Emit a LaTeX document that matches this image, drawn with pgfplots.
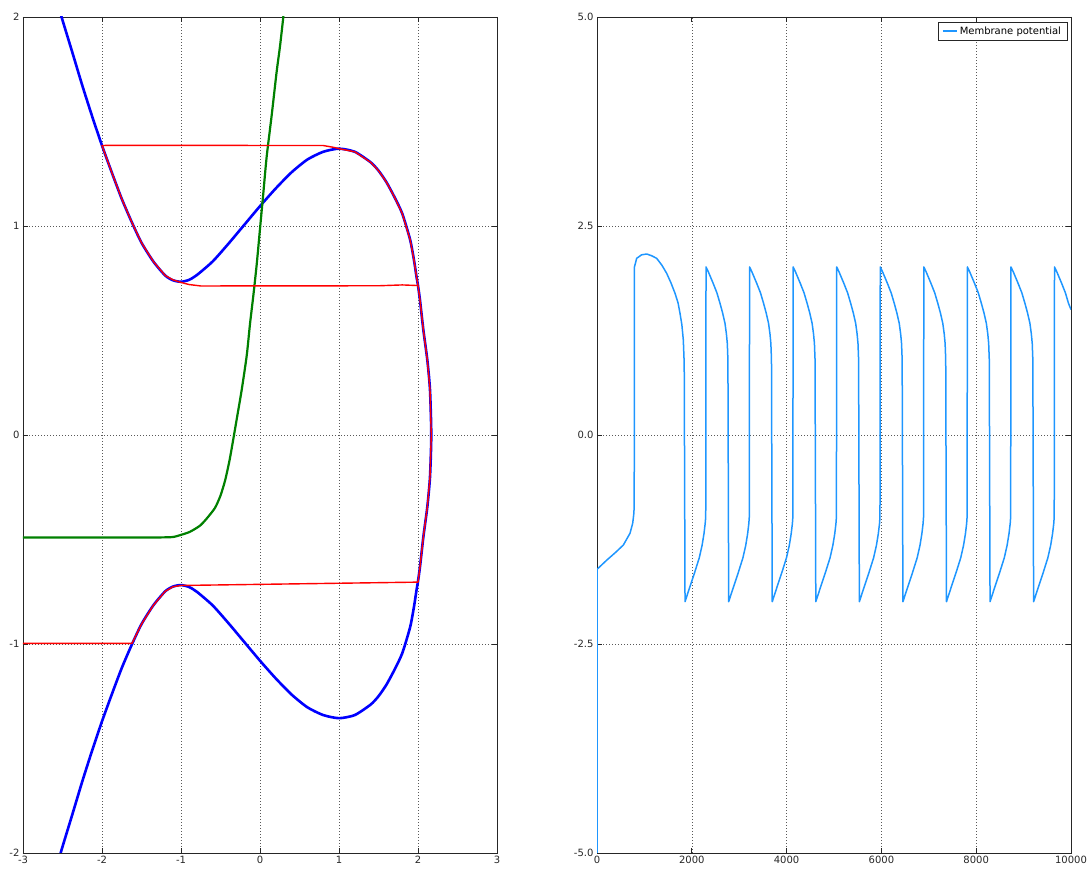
\documentclass[border=0pt]{standalone}
\usepackage{fontspec}
\setmainfont{DejaVu Sans}
\usepackage{pgfplots}
\pgfplotsset{compat=1.18}

\definecolor{nullv}{RGB}{0,0,255}
\definecolor{nullw}{RGB}{0,128,0}
\definecolor{orbit}{RGB}{255,0,0}
\definecolor{trace}{RGB}{30,150,255}

\pgfplotsset{
  panel/.style={
    scale only axis, width=474pt, height=836pt,
    axis line style={black!85, line width=0.9pt},
    grid=major,
    major grid style={black!65, line width=0.6pt, dash pattern=on 1pt off 2pt},
    tick style={black!85, line width=0.7pt},
    major tick length=5pt,
    tick align=inside,
    tick label style={font=\fontsize{10}{12}\selectfont, text=black!85},
    /pgf/number format/assume math mode=true,
  }
}

\begin{document}
\begin{tikzpicture}
\path[use as bounding box] (0pt,0pt) rectangle (1090pt,872pt);

% ---- phase plane ----
\begin{axis}[panel, at={(23pt,19pt)}, anchor=south west,
  xmin=-3, xmax=3, ymin=-2, ymax=2,
  xtick={-3,-2,-1,0,1,2,3}, ytick={-2,-1,0,1,2}]

% closed nullcline (upper branch, then lower branch back)
\addplot[nullv, line width=2.6pt, line join=round, smooth, tension=0.4] coordinates {
(-2.55,2.05) (-2.5,1.985) (-2.375,1.83) (-2.25,1.673) (-2.125,1.525)
(-2.0,1.385) (-1.875,1.255) (-1.75,1.13) (-1.625,1.02) (-1.5,0.92)
(-1.35,0.83) (-1.2,0.763) (-1.1,0.74) (-1.0,0.733) (-0.9,0.742)
(-0.8,0.765) (-0.6,0.83) (-0.4,0.915) (-0.2,1.005) (0.0,1.095)
(0.2,1.18) (0.4,1.257) (0.6,1.318) (0.8,1.355) (1.0,1.37)
(1.2,1.355) (1.4,1.305) (1.5,1.265) (1.6,1.21) (1.7,1.14)
(1.8,1.06) (1.9,0.935) (1.95,0.835) (1.98,0.76) (2.0,0.715)
(2.025,0.646) (2.068,0.502) (2.118,0.359) (2.152,0.215) (2.168,0.0)
(2.152,-0.200) (2.118,-0.344) (2.068,-0.487) (2.025,-0.631) (2.0,-0.700)
(1.98,-0.745) (1.95,-0.820) (1.9,-0.920) (1.8,-1.045) (1.7,-1.125)
(1.6,-1.195) (1.5,-1.250) (1.4,-1.290) (1.2,-1.340) (1.0,-1.355)
(0.8,-1.340) (0.6,-1.303) (0.4,-1.242) (0.2,-1.165) (0.0,-1.080)
(-0.2,-0.990) (-0.4,-0.900) (-0.6,-0.815) (-0.8,-0.750) (-0.9,-0.727)
(-1.0,-0.718) (-1.1,-0.725) (-1.2,-0.748) (-1.35,-0.815) (-1.5,-0.905)
(-1.625,-1.005) (-1.75,-1.115) (-1.875,-1.240) (-2.0,-1.370) (-2.125,-1.510)
(-2.25,-1.658) (-2.375,-1.815) (-2.5,-1.970) (-2.55,-2.035)
};

% recovery nullcline
\addplot[nullw, line width=2.2pt, line join=round, smooth, tension=0.4] coordinates {
(-3.0,-0.49) (-2.5,-0.49) (-2.0,-0.49) (-1.5,-0.49) (-1.25,-0.49) (-1.1,-0.488)
(-0.992,-0.477) (-0.886,-0.463) (-0.760,-0.434)
(-0.675,-0.400) (-0.570,-0.349) (-0.500,-0.290) (-0.440,-0.215) (-0.385,-0.120)
(-0.338,-0.020) (-0.295,0.075) (-0.232,0.215) (-0.168,0.380) (-0.127,0.530)
(-0.085,0.665) (-0.042,0.815) (0.0,0.986) (0.042,1.157) (0.084,1.330)
(0.148,1.530) (0.211,1.739) (0.253,1.859) (0.295,2.0) (0.31,2.06)
};

% trajectory
\addplot[orbit, line width=1.4pt, line join=round] coordinates {
(-3.0,-0.997) (-1.62,-0.997) (-1.5,-0.905) (-1.35,-0.815) (-1.2,-0.748)
(-1.1,-0.726) (-1.0,-0.720) (2.0,-0.704) (2.025,-0.631) (2.068,-0.487)
(2.118,-0.344) (2.152,-0.200) (2.168,0.0) (2.152,0.215) (2.118,0.359)
(2.068,0.502) (2.025,0.646) (2.0,0.715) (1.8,0.718) (1.5,0.714) (-0.75,0.713)
(-0.9,0.720) (-1.0,0.730) (-1.1,0.742) (-1.2,0.763) (-1.35,0.83)
(-1.5,0.92) (-1.625,1.02) (-1.75,1.13) (-1.875,1.255) (-2.0,1.385)
(-1.9,1.386) (0.8,1.385) (0.95,1.375) (1.0,1.37) (1.2,1.355)
(1.4,1.305) (1.5,1.265) (1.6,1.21) (1.7,1.14) (1.8,1.06)
(1.9,0.935) (1.95,0.835) (1.98,0.76) (2.0,0.715)
};
\end{axis}

% ---- time course ----
\begin{axis}[panel, at={(597pt,19pt)}, anchor=south west,
  xmin=0, xmax=10000, ymin=-5, ymax=5,
  xtick={0,2000,4000,6000,8000,10000},
  ytick={-5,-2.5,0,2.5,5},
  scaled x ticks=false,
  x tick label style={/pgf/number format/1000 sep={}},
  y tick label style={/pgf/number format/.cd, fixed, fixed zerofill, precision=1},
  legend style={at={(0.992,0.994)}, anchor=north east, draw=black!85,
    font=\fontsize{10}{12}\selectfont,
    inner xsep=4pt, inner ysep=2.5pt, cells={anchor=west}},
  legend image code/.code={\draw[trace, line width=2pt] (0pt,0pt) -- (14pt,0pt);}]
\addplot[trace, line width=1.5pt, line join=round] coordinates {
(0,-5.0) (0,-1.607) (200,-1.50) (400,-1.40) (556,-1.316) (696,-1.176)
(753,-1.056) (775,-0.95) (785,-0.86) (790,2.01) (837,2.113) (940,2.155)
(1048,2.165) (1150,2.145) (1259,2.113) (1370,2.03) (1470,1.934) (1560,1.82)
(1646,1.695) (1710,1.58) (1751,1.456) (1790,1.32) (1821,1.136) (1840,0.85)
(1857,-1.994) (1957,-1.82) (2057,-1.65) (2157,-1.47) (2217,-1.32)
(2257,-1.18) (2282,-1.06) (2294,-0.98)
(2300,2.01) (2350,1.95) (2450,1.815) (2530,1.70) (2595,1.575) (2650,1.46) (2700,1.336) (2730,1.21) (2749,1.096) (2762,0.90)
(2778,-1.994) (2878,-1.82) (2978,-1.65) (3078,-1.47) (3138,-1.32) (3178,-1.18) (3203,-1.06) (3213,-0.98)
(3219,2.01) (3269,1.95) (3369,1.815) (3449,1.70) (3514,1.575) (3569,1.46) (3619,1.336) (3649,1.21) (3668,1.096) (3681,0.90)
(3697,-1.994) (3797,-1.82) (3897,-1.65) (3997,-1.47) (4057,-1.32) (4097,-1.18) (4122,-1.06) (4132,-0.98)
(4138,2.01) (4188,1.95) (4288,1.815) (4368,1.70) (4433,1.575) (4488,1.46) (4538,1.336) (4568,1.21) (4587,1.096) (4600,0.90)
(4616,-1.994) (4716,-1.82) (4816,-1.65) (4916,-1.47) (4976,-1.32) (5016,-1.18) (5041,-1.06) (5051,-0.98)
(5057,2.01) (5107,1.95) (5207,1.815) (5287,1.70) (5352,1.575) (5407,1.46) (5457,1.336) (5487,1.21) (5506,1.096) (5519,0.90)
(5535,-1.994) (5635,-1.82) (5735,-1.65) (5835,-1.47) (5895,-1.32) (5935,-1.18) (5960,-1.06) (5970,-0.98)
(5976,2.01) (6026,1.95) (6126,1.815) (6206,1.70) (6271,1.575) (6326,1.46) (6376,1.336) (6406,1.21) (6425,1.096) (6438,0.90)
(6454,-1.994) (6554,-1.82) (6654,-1.65) (6754,-1.47) (6814,-1.32) (6854,-1.18) (6879,-1.06) (6889,-0.98)
(6895,2.01) (6945,1.95) (7045,1.815) (7125,1.70) (7190,1.575) (7245,1.46) (7295,1.336) (7325,1.21) (7344,1.096) (7357,0.90)
(7373,-1.994) (7473,-1.82) (7573,-1.65) (7673,-1.47) (7733,-1.32) (7773,-1.18) (7798,-1.06) (7808,-0.98)
(7814,2.01) (7864,1.95) (7964,1.815) (8044,1.70) (8109,1.575) (8164,1.46) (8214,1.336) (8244,1.21) (8263,1.096) (8276,0.90)
(8292,-1.994) (8392,-1.82) (8492,-1.65) (8592,-1.47) (8652,-1.32) (8692,-1.18) (8717,-1.06) (8727,-0.98)
(8733,2.01) (8783,1.95) (8883,1.815) (8963,1.70) (9028,1.575) (9083,1.46) (9133,1.336) (9163,1.21) (9182,1.096) (9195,0.90)
(9211,-1.994) (9311,-1.82) (9411,-1.65) (9511,-1.47) (9571,-1.32) (9611,-1.18) (9636,-1.06) (9646,-0.98)
(9652,2.01) (9702,1.95) (9802,1.815) (9882,1.70) (9947,1.575) (10000,1.50)
};
\addlegendentry{Membrane potential}
\end{axis}
\end{tikzpicture}
\end{document}
